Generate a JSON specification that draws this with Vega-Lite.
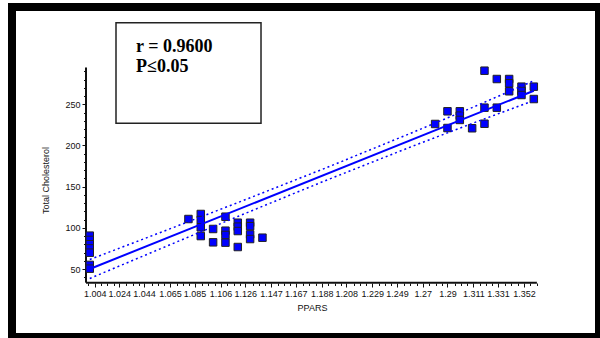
{
  "$schema": "https://vega.github.io/schema/vega-lite/v6.json",
  "width": 587,
  "height": 330,
  "autosize": "none",
  "padding": {"left": 12, "top": 7, "right": 1, "bottom": 1},
  "background": "white",
  "config": {
    "view": {"stroke": "black", "strokeWidth": 8, "fill": "white"},
    "axis": {"labelFont": "Liberation Sans", "titleFont": "Liberation Sans", "labelFontSize": 9, "titleFontSize": 9, "titleFontWeight": "normal", "labelColor": "#111", "titleColor": "#111", "tickColor": "#111", "grid": false, "domain": false}
  },
  "datasets": {
    "pts": [
      {"ppars": 1.00, "chol": 90.5}, {"ppars": 1.00, "chol": 85.3}, {"ppars": 1.00, "chol": 80.1}, {"ppars": 1.00, "chol": 75.0}, {"ppars": 1.00, "chol": 69.8}, {"ppars": 1.00, "chol": 55.0}, {"ppars": 1.00, "chol": 50.4},
      {"ppars": 1.08, "chol": 110.7},
      {"ppars": 1.09, "chol": 116.8}, {"ppars": 1.09, "chol": 109.5}, {"ppars": 1.09, "chol": 100.6}, {"ppars": 1.09, "chol": 90.0},
      {"ppars": 1.10, "chol": 98.6}, {"ppars": 1.10, "chol": 82.4},
      {"ppars": 1.11, "chol": 113.5}, {"ppars": 1.11, "chol": 96.5}, {"ppars": 1.11, "chol": 91.3}, {"ppars": 1.11, "chol": 82.0},
      {"ppars": 1.12, "chol": 106.2}, {"ppars": 1.12, "chol": 101.4}, {"ppars": 1.12, "chol": 96.1}, {"ppars": 1.12, "chol": 76.7},
      {"ppars": 1.13, "chol": 106.2}, {"ppars": 1.13, "chol": 102.0}, {"ppars": 1.13, "chol": 92.0}, {"ppars": 1.13, "chol": 86.4},
      {"ppars": 1.14, "chol": 88.0},
      {"ppars": 1.28, "chol": 226.1},
      {"ppars": 1.29, "chol": 241.5}, {"ppars": 1.29, "chol": 221.2},
      {"ppars": 1.30, "chol": 241.5}, {"ppars": 1.30, "chol": 236.2}, {"ppars": 1.30, "chol": 231.0},
      {"ppars": 1.31, "chol": 220.9},
      {"ppars": 1.32, "chol": 290.8}, {"ppars": 1.32, "chol": 245.9}, {"ppars": 1.32, "chol": 226.4},
      {"ppars": 1.33, "chol": 280.7}, {"ppars": 1.33, "chol": 245.9},
      {"ppars": 1.34, "chol": 280.7}, {"ppars": 1.34, "chol": 275.5}, {"ppars": 1.34, "chol": 265.8},
      {"ppars": 1.35, "chol": 271.4}, {"ppars": 1.35, "chol": 266.2}, {"ppars": 1.35, "chol": 261.3},
      {"ppars": 1.36, "chol": 271.4}, {"ppars": 1.36, "chol": 256.4}
    ],
    "fit": [
      {"ppars": 1.00, "chol": 50.0},
      {"ppars": 1.36, "chol": 266.5}
    ],
    "ci": [
      {"ppars": 1.00, "chol": 61.5, "side": "upper"},
      {"ppars": 1.06, "chol": 95.9, "side": "upper"},
      {"ppars": 1.12, "chol": 130.6, "side": "upper"},
      {"ppars": 1.19, "chol": 171.9, "side": "upper"},
      {"ppars": 1.26, "chol": 214.7, "side": "upper"},
      {"ppars": 1.31, "chol": 246.0, "side": "upper"},
      {"ppars": 1.36, "chol": 278.5, "side": "upper"},
      {"ppars": 1.00, "chol": 38.5, "side": "lower"},
      {"ppars": 1.06, "chol": 76.3, "side": "lower"},
      {"ppars": 1.12, "chol": 113.8, "side": "lower"},
      {"ppars": 1.19, "chol": 156.7, "side": "lower"},
      {"ppars": 1.26, "chol": 198.1, "side": "lower"},
      {"ppars": 1.31, "chol": 226.8, "side": "lower"},
      {"ppars": 1.36, "chol": 254.5, "side": "lower"}
    ],
    "axislines": [
      {"x": 0.99695, "x2": 1.3625, "y": 33.4, "y2": 33.4},
      {"x": 0.99695, "x2": 0.99695, "y": 33.4, "y2": 294.7}
    ],
    "box": [
      {"x": 1.02127, "x2": 1.13883, "y": 226.9, "y2": 349.1}
    ],
    "notes": [
      {"x": 1.0375, "y": 313.9, "label": "r = 0.9600"},
      {"x": 1.0375, "y": 289.6, "label": "P≤0.05"}
    ]
  },
  "resolve": {"axis": {"x": "independent", "y": "independent"}},
  "layer": [
    {
      "data": {"name": "axislines"},
      "mark": {"type": "rule", "color": "#111", "strokeWidth": 2},
      "encoding": {
        "x": {"field": "x", "type": "quantitative", "scale": {"domain": [0.936953, 1.412846], "nice": false, "zero": false},
          "axis": {"orient": "bottom", "offset": -54, "labels": false, "title": null, "tickSize": 2.5,
            "values": [0.99888, 1.00912, 1.01424, 1.01935, 1.02959, 1.03471, 1.03982, 1.05006, 1.05518, 1.06029, 1.07053, 1.07565, 1.08076, 1.091, 1.09612, 1.10124, 1.11147, 1.11659, 1.12171, 1.13194, 1.13706, 1.14218, 1.15241, 1.15753, 1.16265, 1.17288, 1.178, 1.18312, 1.19335, 1.19847, 1.20359, 1.21382, 1.21894, 1.22406, 1.23429, 1.23941, 1.24453, 1.25476, 1.25988, 1.265, 1.27524, 1.28035, 1.28547, 1.29571, 1.30082, 1.30594, 1.31618, 1.32129, 1.32641, 1.33665, 1.34176, 1.34688, 1.35712, 1.36224]}},
        "x2": {"field": "x2"},
        "y": {"field": "y", "type": "quantitative", "scale": {"domain": [-32.57, 368.15], "nice": false, "zero": false},
          "axis": {"orient": "left", "offset": -74, "labels": false, "title": null, "tickSize": 2.5,
            "values": [40, 60, 70, 80, 90, 110, 120, 130, 140, 160, 170, 180, 190, 210, 220, 230, 240, 260, 270, 280, 290]}},
        "y2": {"field": "y2"}
      }
    },
    {
      "data": {"name": "box"},
      "mark": {"type": "rect", "fill": "white", "fillOpacity": 0, "stroke": "#222", "strokeWidth": 1.5},
      "encoding": {
        "x": {"field": "x", "type": "quantitative", "axis": null},
        "x2": {"field": "x2"},
        "y": {"field": "y", "type": "quantitative", "axis": null},
        "y2": {"field": "y2"}
      }
    },
    {
      "data": {"name": "notes"},
      "mark": {"type": "text", "align": "left", "baseline": "alphabetic", "font": "Liberation Serif", "fontWeight": "bold", "fontSize": 18, "color": "black"},
      "encoding": {
        "x": {"field": "x", "type": "quantitative", "axis": null},
        "y": {"field": "y", "type": "quantitative", "axis": null},
        "text": {"field": "label"}
      }
    },
    {
      "data": {"name": "pts"},
      "mark": {"type": "point", "shape": "square", "filled": true, "size": 56, "fill": "#0000ff", "stroke": "#222", "strokeWidth": 1, "opacity": 1},
      "encoding": {
        "x": {"field": "ppars", "type": "quantitative", "title": "PPARS",
          "axis": {"orient": "bottom", "offset": -54, "tickSize": 4, "labelPadding": 2, "format": ".3~f",
            "values": [1.004, 1.024, 1.044, 1.065, 1.085, 1.106, 1.126, 1.147, 1.167, 1.188, 1.208, 1.229, 1.249, 1.27, 1.29, 1.311, 1.331, 1.352],
            "labelOverlap": false, "labelFlush": false, "titleX": 300, "titleY": 24, "titleBaseline": "middle", "titleAlign": "center", "titleAnchor": null}},
        "y": {"field": "chol", "type": "quantitative", "title": "Total Cholesterol",
          "axis": {"orient": "left", "offset": -74, "tickSize": 4, "labelPadding": 2, "values": [50, 100, 150, 200, 250],
            "labelOverlap": false, "titleX": -41, "titleY": 173, "titleBaseline": "middle", "titleAlign": "center", "titleAngle": -90, "titleAnchor": null}}
      }
    },
    {
      "data": {"name": "fit"},
      "mark": {"type": "line", "color": "#0000ff", "strokeWidth": 2},
      "encoding": {
        "x": {"field": "ppars", "type": "quantitative", "axis": null},
        "y": {"field": "chol", "type": "quantitative", "axis": null}
      }
    },
    {
      "data": {"name": "ci"},
      "mark": {"type": "line", "color": "#0000ff", "strokeWidth": 1.5, "strokeDash": [2, 3]},
      "encoding": {
        "x": {"field": "ppars", "type": "quantitative", "axis": null},
        "y": {"field": "chol", "type": "quantitative", "axis": null},
        "detail": {"field": "side"}
      }
    }
  ]
}
